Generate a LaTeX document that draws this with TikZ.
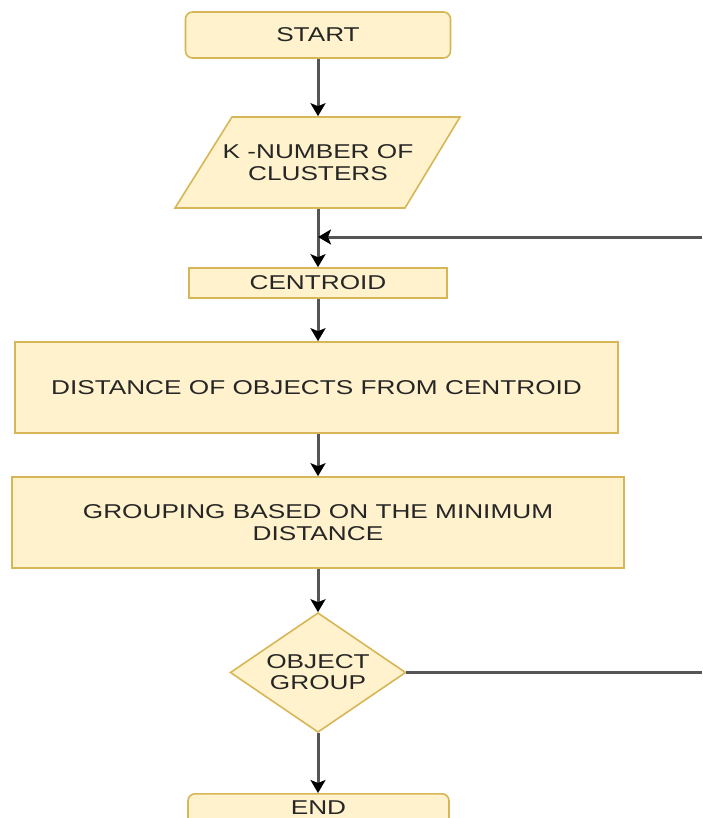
\documentclass[tikz,border=0pt]{standalone}
\usepackage{fontspec}
\setmainfont[FakeStretch=1.31]{Liberation Sans}
\usetikzlibrary{arrows.meta}
\definecolor{boxfill}{HTML}{FFF2CC}
\definecolor{boxline}{HTML}{D6B656}
\definecolor{linegray}{HTML}{555555}
\definecolor{txt}{HTML}{262626}
\tikzset{
  box/.style={draw=boxline,fill=boxfill,line width=1.6pt,inner sep=0pt,
    text=txt,font=\fontsize{20}{22}\selectfont,align=center},
  shapeline/.style={draw=boxline,fill=boxfill,line width=1.6pt},
  flow/.style={draw=linegray,line width=3pt,
    -{Stealth[length=13pt,width=15pt,inset=3pt,color=black]}},
  plain/.style={draw=linegray,line width=2.4pt},
}
\begin{document}
\begin{tikzpicture}[x=1pt,y=-1pt]
\useasboundingbox (0,0) rectangle (702,818);
\node[box,rounded corners=7pt,minimum width=265pt,minimum height=46pt] (start) at (318,35) {START};
\draw[shapeline] (232,117) -- (460,117) -- (405,208) -- (175,208) -- cycle;
\node[box,draw=none,fill=none,minimum width=230pt,minimum height=91pt] (k) at (318,162.5) {K -NUMBER OF\\[0pt]CLUSTERS};
\node[box,minimum width=258pt,minimum height=30pt] (cen) at (318,283) {CENTROID};
\node[box,minimum width=603pt,minimum height=91pt] (dist) at (316.5,387.5) {DISTANCE OF OBJECTS FROM CENTROID};
\node[box,minimum width=612pt,minimum height=91pt] (grp) at (318,522.5) {GROUPING BASED ON THE MINIMUM\\[0pt]DISTANCE};
\draw[shapeline] (318,613) -- (405.5,672.5) -- (318,732) -- (230.5,672.5) -- cycle;
\node[box,draw=none,fill=none,minimum width=175pt,minimum height=119pt] (dec) at (318,672.5) {OBJECT\\[-1pt]GROUP};
\node[box,rounded corners=7pt,minimum width=261pt,minimum height=46pt,anchor=north] (end) at (318.5,793) {};
\node[text=txt,font=\fontsize{20}{22}\selectfont] at (318.5,808) {END};
\coordinate (r1) at (702,237);
\coordinate (r2) at (702,672.5);
\coordinate (j) at (318,237);
\draw[flow] (start) -- (start.south |- k.north);
\draw[flow] (k) -- (k.south |- cen.north);
\draw[flow] (r1) -- (j);
\draw[flow] (cen) -- (cen.south |- dist.north);
\draw[flow] (cen.south |- dist.south) -- (cen.south |- grp.north);
\draw[flow] (grp.south) -- (dec.north);
\draw[flow] (dec) -- (dec.south |- end.north);
\draw[plain] (dec.east) -- (r2);
\end{tikzpicture}
\end{document}
